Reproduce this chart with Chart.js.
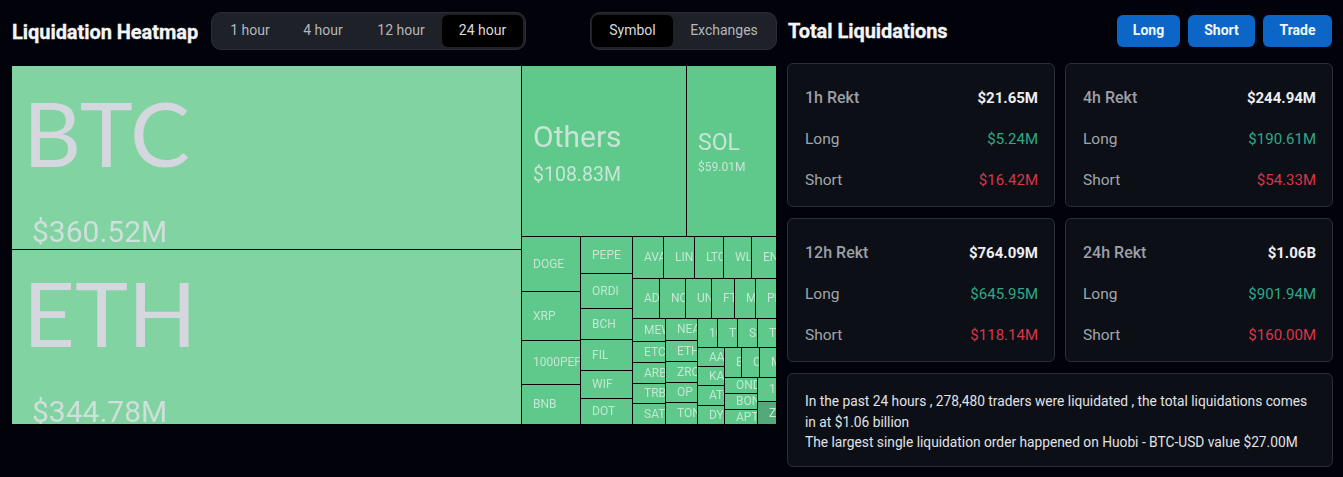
<!DOCTYPE html>
<html>
<head>
<meta charset="utf-8">
<title>Liquidation Heatmap</title>
<script src="https://cdn.jsdelivr.net/npm/chart.js@4"></script>
<style>
html, body { margin: 0; height: 100%; background: #02030a; overflow: hidden; font-family: Roboto, sans-serif; }
.abs { position: absolute; }
.title { color: #f4f5f7; font-weight: 700; font-size: 20px; line-height: 24px; -webkit-text-stroke: 0.3px #f4f5f7; letter-spacing: -0.05px; }
.tabs { background: #1e2128; border: 1px solid #2b2e36; border-radius: 10px; box-sizing: border-box; height: 38px; top: 12px; }
.tab { top: 15px; height: 32px; line-height: 31px; text-align: center; color: #b4b7bd; font-size: 14px; border-radius: 6px; }
.tab.on { background: #000; color: #d8dade; }
.btn { top: 15px; height: 32px; line-height: 30px; text-align: center; background: #0b66c8; color: #f2f5fa; font-size: 14px; font-weight: 700; border-radius: 6px; }
.card { background: #0c0f16; border: 1px solid #2a2e36; border-radius: 6px; box-sizing: border-box; }
.row { left: 17px; right: 16px; display: flex; justify-content: space-between; font-size: 15.5px; line-height: 20px; color: #a2a5ab; }
.row span + span { font-size: 15px; }
.row.head { font-size: 16px; font-weight: 500; color: #9c9fa6; }
.row.head b { color: #eceef1; font-weight: 700; font-size: 15px; }
.long { color: #2fa888; }
.short { color: #d8364a; }
.note { left: 17px; right: 17px; top: 17px; color: #e0e2e6; font-size: 13.75px; line-height: 20.5px; }
#heatmap { position: absolute; left: 12px; top: 66px; }
</style>
</head>
<body>
<div class="abs title" style="left:12px;top:20px">Liquidation Heatmap</div>
<div class="abs tabs" style="left:211px;width:315px"></div>
<div class="abs tab" style="left:215px;width:70px">1 hour</div>
<div class="abs tab" style="left:288px;width:70px">4 hour</div>
<div class="abs tab" style="left:361px;width:80px">12 hour</div>
<div class="abs tab on" style="left:442px;width:81px">24 hour</div>
<div class="abs tabs" style="left:590px;width:187px"></div>
<div class="abs tab on" style="left:592px;width:81px">Symbol</div>
<div class="abs tab" style="left:674px;width:100px">Exchanges</div>
<div class="abs title" style="left:788px;top:19px">Total Liquidations</div>
<div class="abs btn" style="left:1117px;width:63px">Long</div>
<div class="abs btn" style="left:1188px;width:67px">Short</div>
<div class="abs btn" style="left:1263px;width:69px">Trade</div>
<canvas id="heatmap" width="765" height="359"></canvas>
<div id="cards"></div>
<div class="abs card" style="left:787px;top:373px;width:546px;height:94px">
  <div class="abs note">In the past 24 hours , 278,480 traders were liquidated , the total liquidations comes in at $1.06 billion<br>The largest single liquidation order happened on Huobi - BTC-USD value $27.00M</div>
</div>
<script>
// heatmap cells, read in the order the layout below walks them
const symbols = ['BTC', 'ETH', 'Others', 'SOL',
    'DOGE', 'XRP', '1000PEPE', 'BNB',
    'PEPE', 'ORDI', 'BCH', 'FIL', 'WIF', 'DOT',
    'AVAX', 'LINK', 'LTC', 'WLD', 'ENA',
    'ADA', 'NOT', 'UNI', 'FTM', 'M', 'PE',
    'MEW', 'ETC', 'ARB', 'TRB', 'SATS',
    'NEAR', 'ETHFI', 'ZRO', 'OP', 'TON',
    '10', 'TI', 'SU', 'TI',
    'AAVE', 'KAS', 'ATOM', 'DYDX',
    'E', 'C', 'M',
    'ONDO', 'BONK', 'APT',
    '10', 'ZI'];
const liquidations = [360.52, 344.78, 108.83, 59.01,
    12.5, 11.2, 9.8, 9.2,
    7.43, 7.03, 6.23, 6.23, 5.62, 5.12,
    4.97, 4.89, 4.73, 4.41, 4.01,
    4.17, 4.02, 3.94, 3.63, 3.24, 3.17,
    3.0, 2.61, 2.68, 2.61, 2.61,
    2.74, 2.49, 2.56, 2.49, 2.62,
    2.34, 2.28, 2.28, 2.11,
    2.02, 2.02, 2.12, 1.96,
    1.97, 2.03, 1.97,
    2.04, 2.04, 1.85,
    1.72, 1.61];
const darkerSymbols = ['ZI'];

// how the cells nest: a number is that many leaves in a line, an array is a group.
// direction flips at every level
const nesting = [2, [2, [4, 6, [5, 6, [5, 5, [4, [4, [3, [3, 2]]]]]]]]];

// summary cards
const periods = ['1h Rekt', '4h Rekt', '12h Rekt', '24h Rekt'];
const totals = ['$21.65M', '$244.94M', '$764.09M', '$1.06B'];
const longs = ['$5.24M', '$190.61M', '$645.95M', '$901.94M'];
const shorts = ['$16.42M', '$54.33M', '$118.14M', '$160.00M'];

let cursor = 0;
function buildNode(node) {
    if (typeof node === 'number') {
        const leaves = [];
        for (let i = 0; i < node; i++) {
            leaves.push({ index: cursor, size: liquidations[cursor] });
            cursor++;
        }
        return { children: leaves, size: leaves.reduce((s, c) => s + c.size, 0) };
    }
    const children = node.map(buildNode);
    return { children: children, size: children.reduce((s, c) => s + c.size, 0) };
}

// slice and dice, all in 0-1 units of the two scales
function placeNode(node, x0, x1, y0, y1, across, cells) {
    if (!node.children) {
        cells.push({ x0, x1, y0, y1, v: node.size, name: symbols[node.index] });
        return;
    }
    let pos = across ? x0 : y0;
    const span = across ? x1 - x0 : y1 - y0;
    node.children.forEach(child => {
        const next = pos + span * child.size / node.size;
        if (across) placeNode(child, pos, next, y0, y1, false, cells);
        else placeNode(child, x0, x1, pos, next, true, cells);
        pos = next;
    });
}

const cells = [];
placeNode(buildNode(nesting), 0, 1, 0, 1, true, cells);

class TreemapController extends Chart.DatasetController {
    update(mode) {
        const meta = this._cachedMeta;
        this.updateElements(meta.data, 0, meta.data.length, mode);
    }
    updateElements(elements, start, count, mode) {
        const xScale = this._cachedMeta.xScale;
        const yScale = this._cachedMeta.yScale;
        for (let i = start; i < start + count; i++) {
            const cell = this.getDataset().data[i];
            const left = Math.round(xScale.getPixelForValue(cell.x0));
            const right = Math.round(xScale.getPixelForValue(cell.x1));
            const top = Math.round(yScale.getPixelForValue(cell.y0));
            const bottom = Math.round(yScale.getPixelForValue(cell.y1));
            this.updateElement(elements[i], i, {
                x: (left + right) / 2,
                width: right - left,
                y: top,
                base: bottom,
                horizontal: false,
                borderSkipped: {},
                inflateAmount: 0,
                options: this.resolveDataElementOptions(i, mode)
            }, mode);
        }
    }
}
TreemapController.id = 'treemap';
TreemapController.defaults = { datasetElementType: false, dataElementType: 'bar' };
Chart.register(TreemapController);

function labelStyle(v) {
    if (v > 300) return { font: 90, valueFont: 30, x: 11, valueX: 20, nameDy: 9, valueDy: 84, color: '#d5d7df', valueColor: '#cfdfdb', family: 'Lato' };
    if (v > 100) return { font: 30, valueFont: 19.5, x: 11, valueX: 11, nameDy: -5, valueDy: 29, color: '#c9e4d7', valueColor: '#c9e4d7', family: 'Roboto' };
    if (v > 50) return { font: 23, valueFont: 12, x: 11, valueX: 11, nameDy: -2, valueDy: 19, color: '#c9e4d7', valueColor: '#c9e4d7', family: 'Roboto' };
    return { font: 12, x: 11, nameDy: 3, color: '#c4e6d2', family: 'Roboto' };
}

const cellLabels = {
    id: 'cellLabels',
    afterDatasetsDraw(chart) {
        const ctx = chart.ctx;
        chart.getDatasetMeta(0).data.forEach((el, i) => {
            const cell = cells[i];
            const style = labelStyle(cell.v);
            const left = el.x - el.width / 2;
            const middle = (el.y + el.base) / 2;
            ctx.save();
            ctx.beginPath();
            ctx.rect(left, el.y, el.width - 1, el.base - el.y - 1);
            ctx.clip();
            ctx.textBaseline = 'alphabetic';
            ctx.fillStyle = style.color;
            ctx.font = style.font + 'px ' + style.family;
            ctx.fillText(cell.name, left + style.x, middle + style.nameDy);
            if (style.valueFont) {
                ctx.fillStyle = style.valueColor;
                ctx.font = style.valueFont + 'px Roboto';
                ctx.fillText('$' + cell.v.toFixed(2) + 'M', left + style.valueX, middle + style.valueDy);
            }
            ctx.restore();
        });
    }
};

new Chart(document.getElementById('heatmap').getContext('2d'), {
    type: 'treemap',
    data: {
        datasets: [{
            data: cells,
            backgroundColor: cells.map(c => {
                if (darkerSymbols.includes(c.name)) return '#54a97b';
                return c.v > 300 ? '#81d3a2' : '#5ec98b';
            }),
            borderColor: '#000',
            borderWidth: { right: 1, bottom: 1 }
        }]
    },
    options: {
        responsive: false,
        animation: false,
        parsing: false,
        layout: { padding: 0 },
        events: [],
        scales: {
            x: { type: 'linear', display: false, min: 0, max: 1 },
            y: { type: 'linear', display: false, min: 0, max: 1, reverse: true }
        },
        plugins: { legend: { display: false }, tooltip: { enabled: false } }
    },
    plugins: [cellLabels]
});

// summary cards are plain html
const cardsEl = document.getElementById('cards');
periods.forEach((period, i) => {
    const left = i % 2 ? 1065 : 787;
    const top = i < 2 ? 63 : 218;
    cardsEl.insertAdjacentHTML('beforeend',
        '<div class="abs card" style="left:' + left + 'px;top:' + top + 'px;width:268px;height:144px">' +
        '<div class="abs row head" style="top:24px"><span>' + period + '</span><b>' + totals[i] + '</b></div>' +
        '<div class="abs row" style="top:65px"><span>Long</span><span class="long">' + longs[i] + '</span></div>' +
        '<div class="abs row" style="top:106px"><span>Short</span><span class="short">' + shorts[i] + '</span></div>' +
        '</div>');
});
</script>
</body>
</html>
